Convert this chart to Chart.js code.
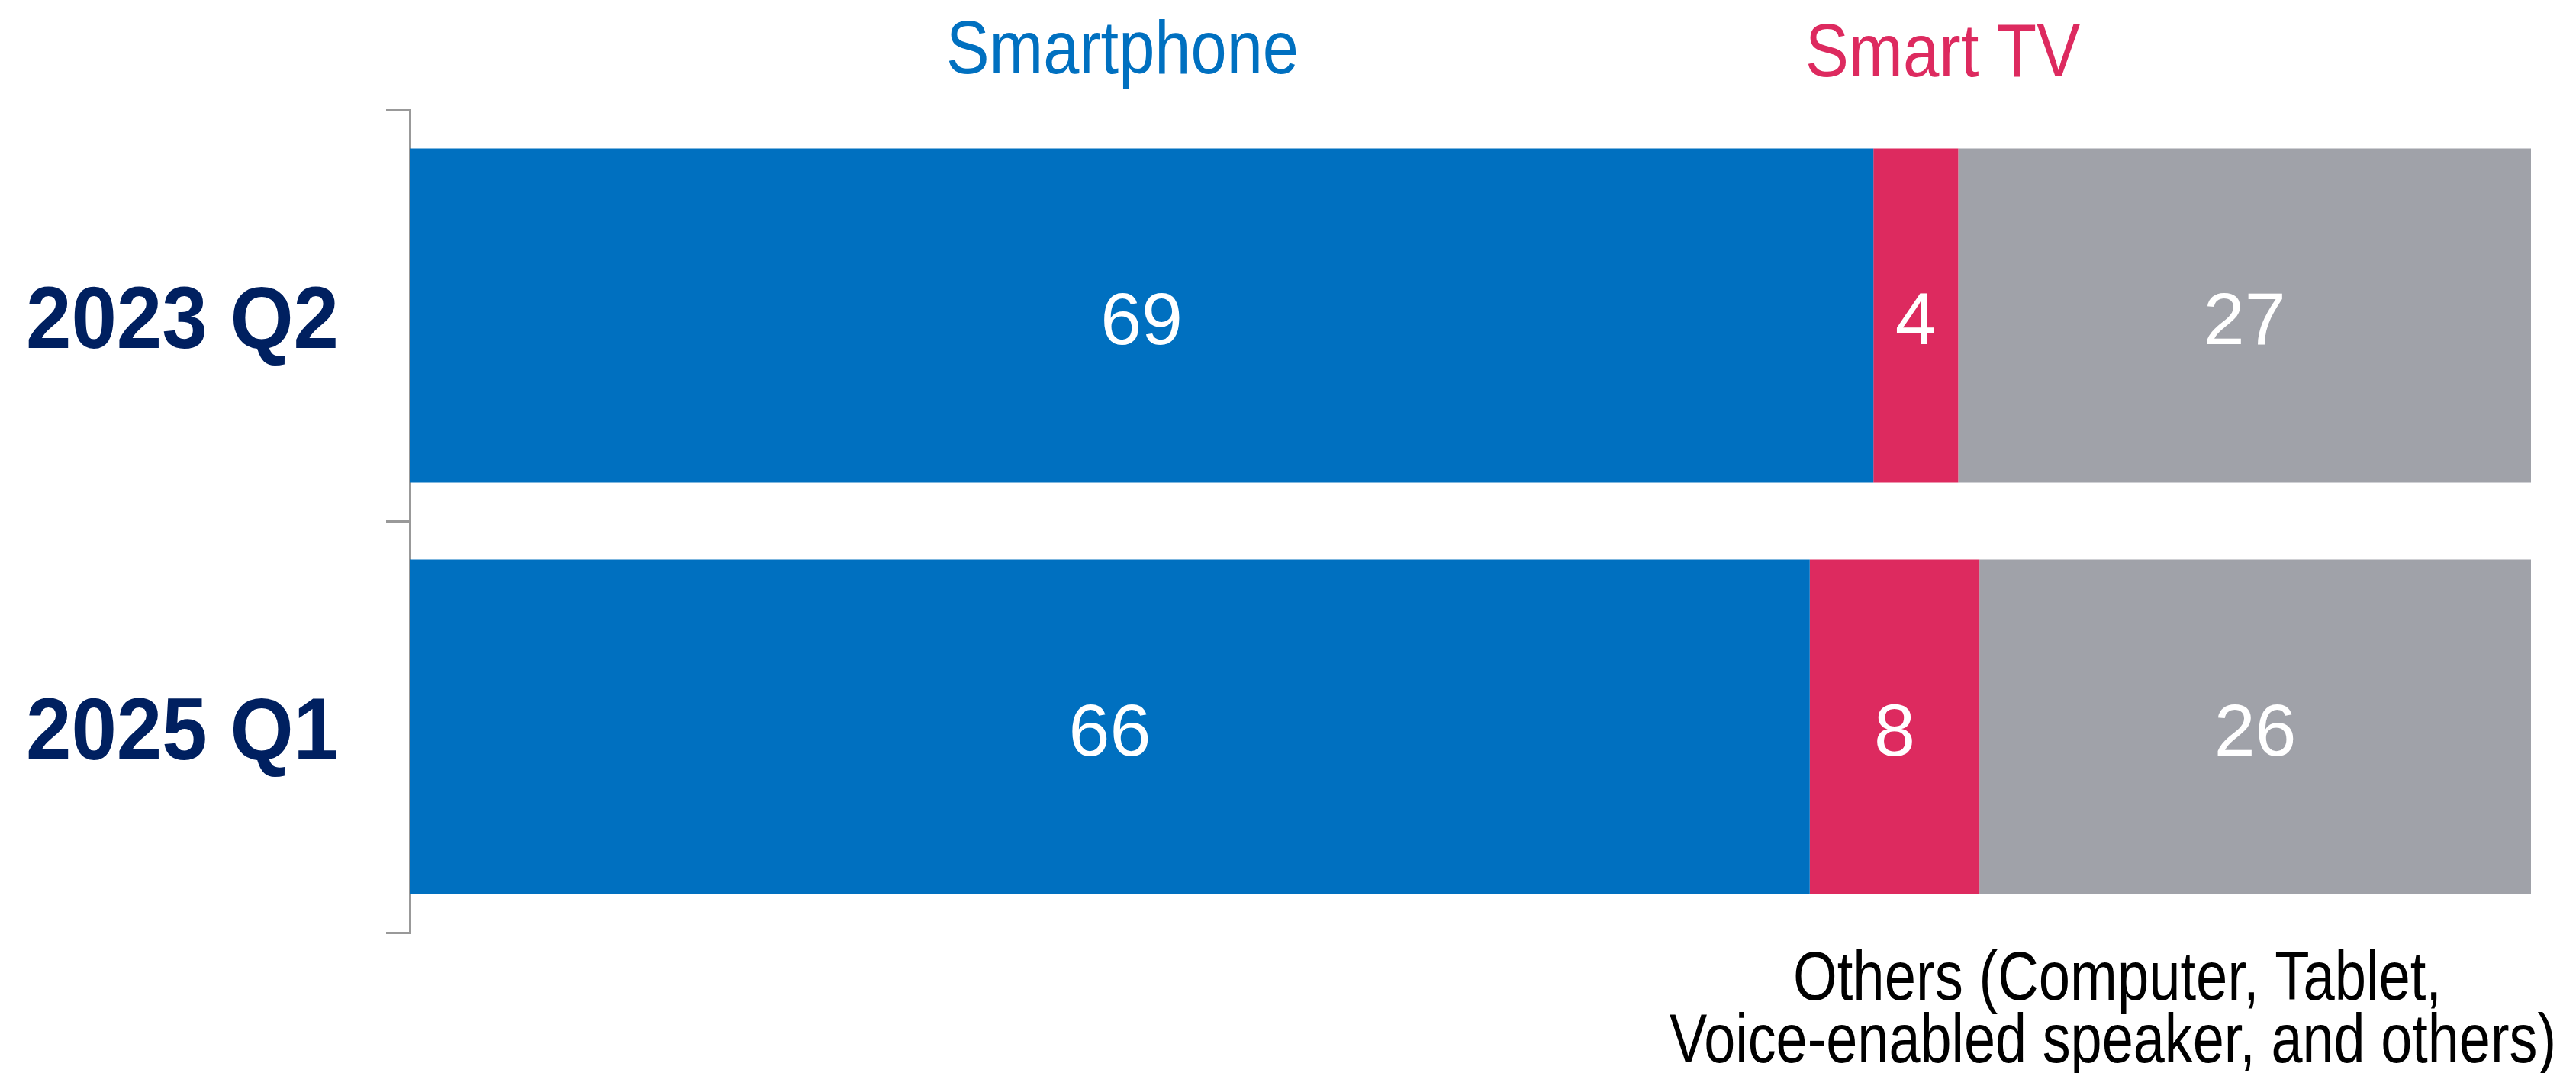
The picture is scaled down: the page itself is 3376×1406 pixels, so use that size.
<!DOCTYPE html>
<html lang="en">
<head>
  <meta charset="UTF-8">
  <title>Device share</title>
  <script src="https://cdn.jsdelivr.net/npm/chart.js"></script>
  <style>
    html, body { margin: 0; padding: 0; background: #fff; }
    .wrap { width: 3376px; height: 1406px; position: relative; }
  </style>
</head>
<body>
  <div class="wrap">
    <canvas id="chart"></canvas>
  </div>

  <script>
    // data (percent)
    const periods = ['2023 Q2', '2025 Q1'];
    const seriesNames = ['Smartphone', 'Smart TV', 'Others'];
    const smartphone = [69, 66];
    const smartTV = [4, 8];
    const others = [27, 26];

    const BLUE = '#0070C0';
    const PINK = '#DD2A5F';
    const GREY = '#A0A2A9';
    const NAVY = '#002060';
    const AXIS = '#999999';
    const FONT = '"Liberation Sans", Arial, sans-serif';

    // draws a line of text squeezed to a given width (the reference uses a narrow face)
    function squeezed(ctx, str, cx, baseline, font, color, width) {
      ctx.save();
      ctx.font = font;
      ctx.fillStyle = color;
      ctx.textAlign = 'center';
      ctx.textBaseline = 'alphabetic';
      ctx.fillText(str, cx, baseline, width);
      ctx.restore();
    }

    const labelsPlugin = {
      id: 'labelsPlugin',
      afterDatasetsDraw(chart) {
        const ctx = chart.ctx;
        // values inside the bars
        chart.data.datasets.forEach((ds, di) => {
          chart.getDatasetMeta(di).data.forEach((bar, i) => {
            const cx = (bar.x + bar.base) / 2;
            ctx.save();
            ctx.font = '97px ' + FONT;
            ctx.fillStyle = '#ffffff';
            ctx.textAlign = 'center';
            ctx.textBaseline = 'alphabetic';
            ctx.fillText(String(ds.data[i]), cx, bar.y + 37);
            ctx.restore();
          });
        });

        // category labels on the left
        const y = chart.scales.y;
        periods.forEach((p, i) => {
          const py = y.getPixelForValue(i);
          ctx.save();
          ctx.font = 'bold 115px ' + FONT;
          ctx.fillStyle = NAVY;
          ctx.textAlign = 'left';
          ctx.textBaseline = 'alphabetic';
          ctx.fillText(p, 34, py + 42, 410);
          ctx.restore();
        });

        // series names
        squeezed(ctx, seriesNames[0], 1471, 96, '98px ' + FONT, BLUE, 462);
        squeezed(ctx, seriesNames[1], 2546, 100, '98px ' + FONT, PINK, 360);
        squeezed(ctx, 'Others (Computer, Tablet,', 2775, 1310, '91px ' + FONT, '#000000', 850);
        squeezed(ctx, 'Voice-enabled speaker, and others)', 2769, 1392, '91px ' + FONT, '#000000', 1162);
      }
    };

    new Chart(document.getElementById('chart'), {
      type: 'bar',
      data: {
        labels: periods,
        datasets: [
          { label: seriesNames[0], data: smartphone, backgroundColor: BLUE },
          { label: seriesNames[1], data: smartTV, backgroundColor: PINK },
          { label: seriesNames[2], data: others, backgroundColor: GREY }
        ]
      },
      options: {
        indexAxis: 'y',
        responsive: true,
        maintainAspectRatio: false,
        animation: false,
        datasets: { bar: { barPercentage: 0.813, categoryPercentage: 1, borderWidth: 0 } },
        layout: { padding: { top: 144, bottom: 184, right: 59, left: 0 } },
        plugins: {
          legend: { display: false },
          tooltip: { enabled: false },
          title: { display: false }
        },
        scales: {
          x: {
            stacked: true,
            min: 0,
            max: 100,
            display: false
          },
          y: {
            stacked: true,
            offset: true,
            grid: {
              offset: true,
              drawOnChartArea: false,
              drawTicks: true,
              tickLength: 31,
              color: AXIS,
              lineWidth: 3
            },
            border: { display: true, color: AXIS, width: 3 },
            ticks: { display: false },
            afterFit(scale) { scale.width = 537; }
          }
        }
      },
      plugins: [labelsPlugin]
    });
  </script>
</body>
</html>
